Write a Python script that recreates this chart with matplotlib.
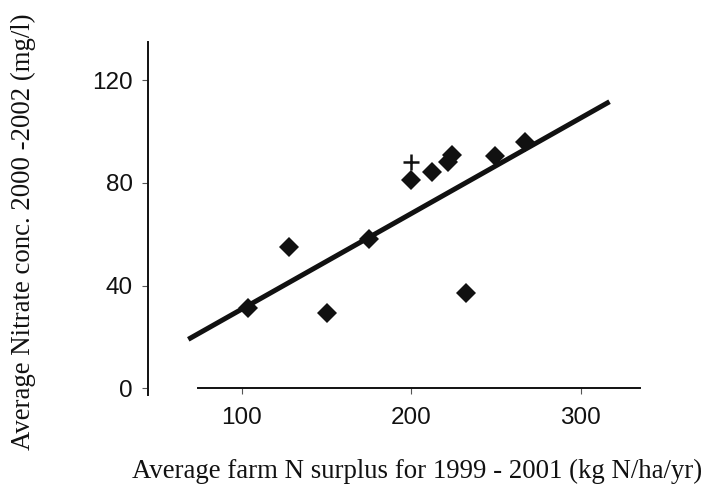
import matplotlib
matplotlib.use('Agg')
import matplotlib.pyplot as plt

# farm N surplus (kg N/ha/yr) vs nitrate concentration (mg/l)
surplus = [103.7, 127.7, 150.3, 175.1, 200.1, 212.5, 221.7, 224.3, 232.2, 249.7, 267.1]
nitrate = [31.2, 55.0, 29.2, 58.1, 81.0, 84.2, 88.1, 91.1, 37.0, 90.4, 96.0]
# the single "+" point
plus_x = [199.7]
plus_y = [88.1]
# fitted line end points
fit_x = [68.3, 317.1]
fit_y = [19.0, 111.7]

xticks = [100, 200, 300]
yticks = [0, 40, 80, 120]

ink = '#111111'

fig = plt.figure(figsize=(7.07, 4.87), dpi=100)
ax = fig.add_axes([0.2093, 0.189, 0.6957, 0.7248])

ax.plot(fit_x, fit_y, color=ink, lw=3.6, solid_capstyle='butt', zorder=2)
ax.plot(surplus, nitrate, 'D', color=ink, ms=9.8, mew=0, zorder=3)
ax.plot(plus_x, plus_y, '+', color=ink, ms=11.5, mew=1.8, zorder=3)

ax.set_xlim(44.5, 335)
ax.set_ylim(-2.7, 135)
ax.set_xticks(xticks)
ax.set_yticks(yticks)

for s in ['top', 'right']:
    ax.spines[s].set_visible(False)
ax.spines['bottom'].set_position(('data', 0))
ax.spines['bottom'].set_bounds(74, 335)
for s in ['left', 'bottom']:
    ax.spines[s].set_linewidth(1.4)
    ax.spines[s].set_color(ink)

ax.tick_params(direction='out', length=4.5, width=0.8, color='#555555',
               labelsize=17.5, labelcolor=ink)
ax.tick_params(axis='y', pad=6.5)
ax.tick_params(axis='x', pad=9)
for lab in ax.get_xticklabels() + ax.get_yticklabels():
    lab.set_family('Liberation Sans')

fig.text(0.5905, 0.031, 'Average farm N surplus for 1999 - 2001 (kg N/ha/yr)',
         ha='center', va='center', family='Liberation Serif', fontsize=19.3, color=ink)
fig.text(0.033, 0.5246, 'Average Nitrate conc. 2000 -2002 (mg/l)', rotation=90,
         ha='center', va='center', family='Liberation Serif', fontsize=19.3, color=ink)

fig.savefig('out.png', dpi=100)
